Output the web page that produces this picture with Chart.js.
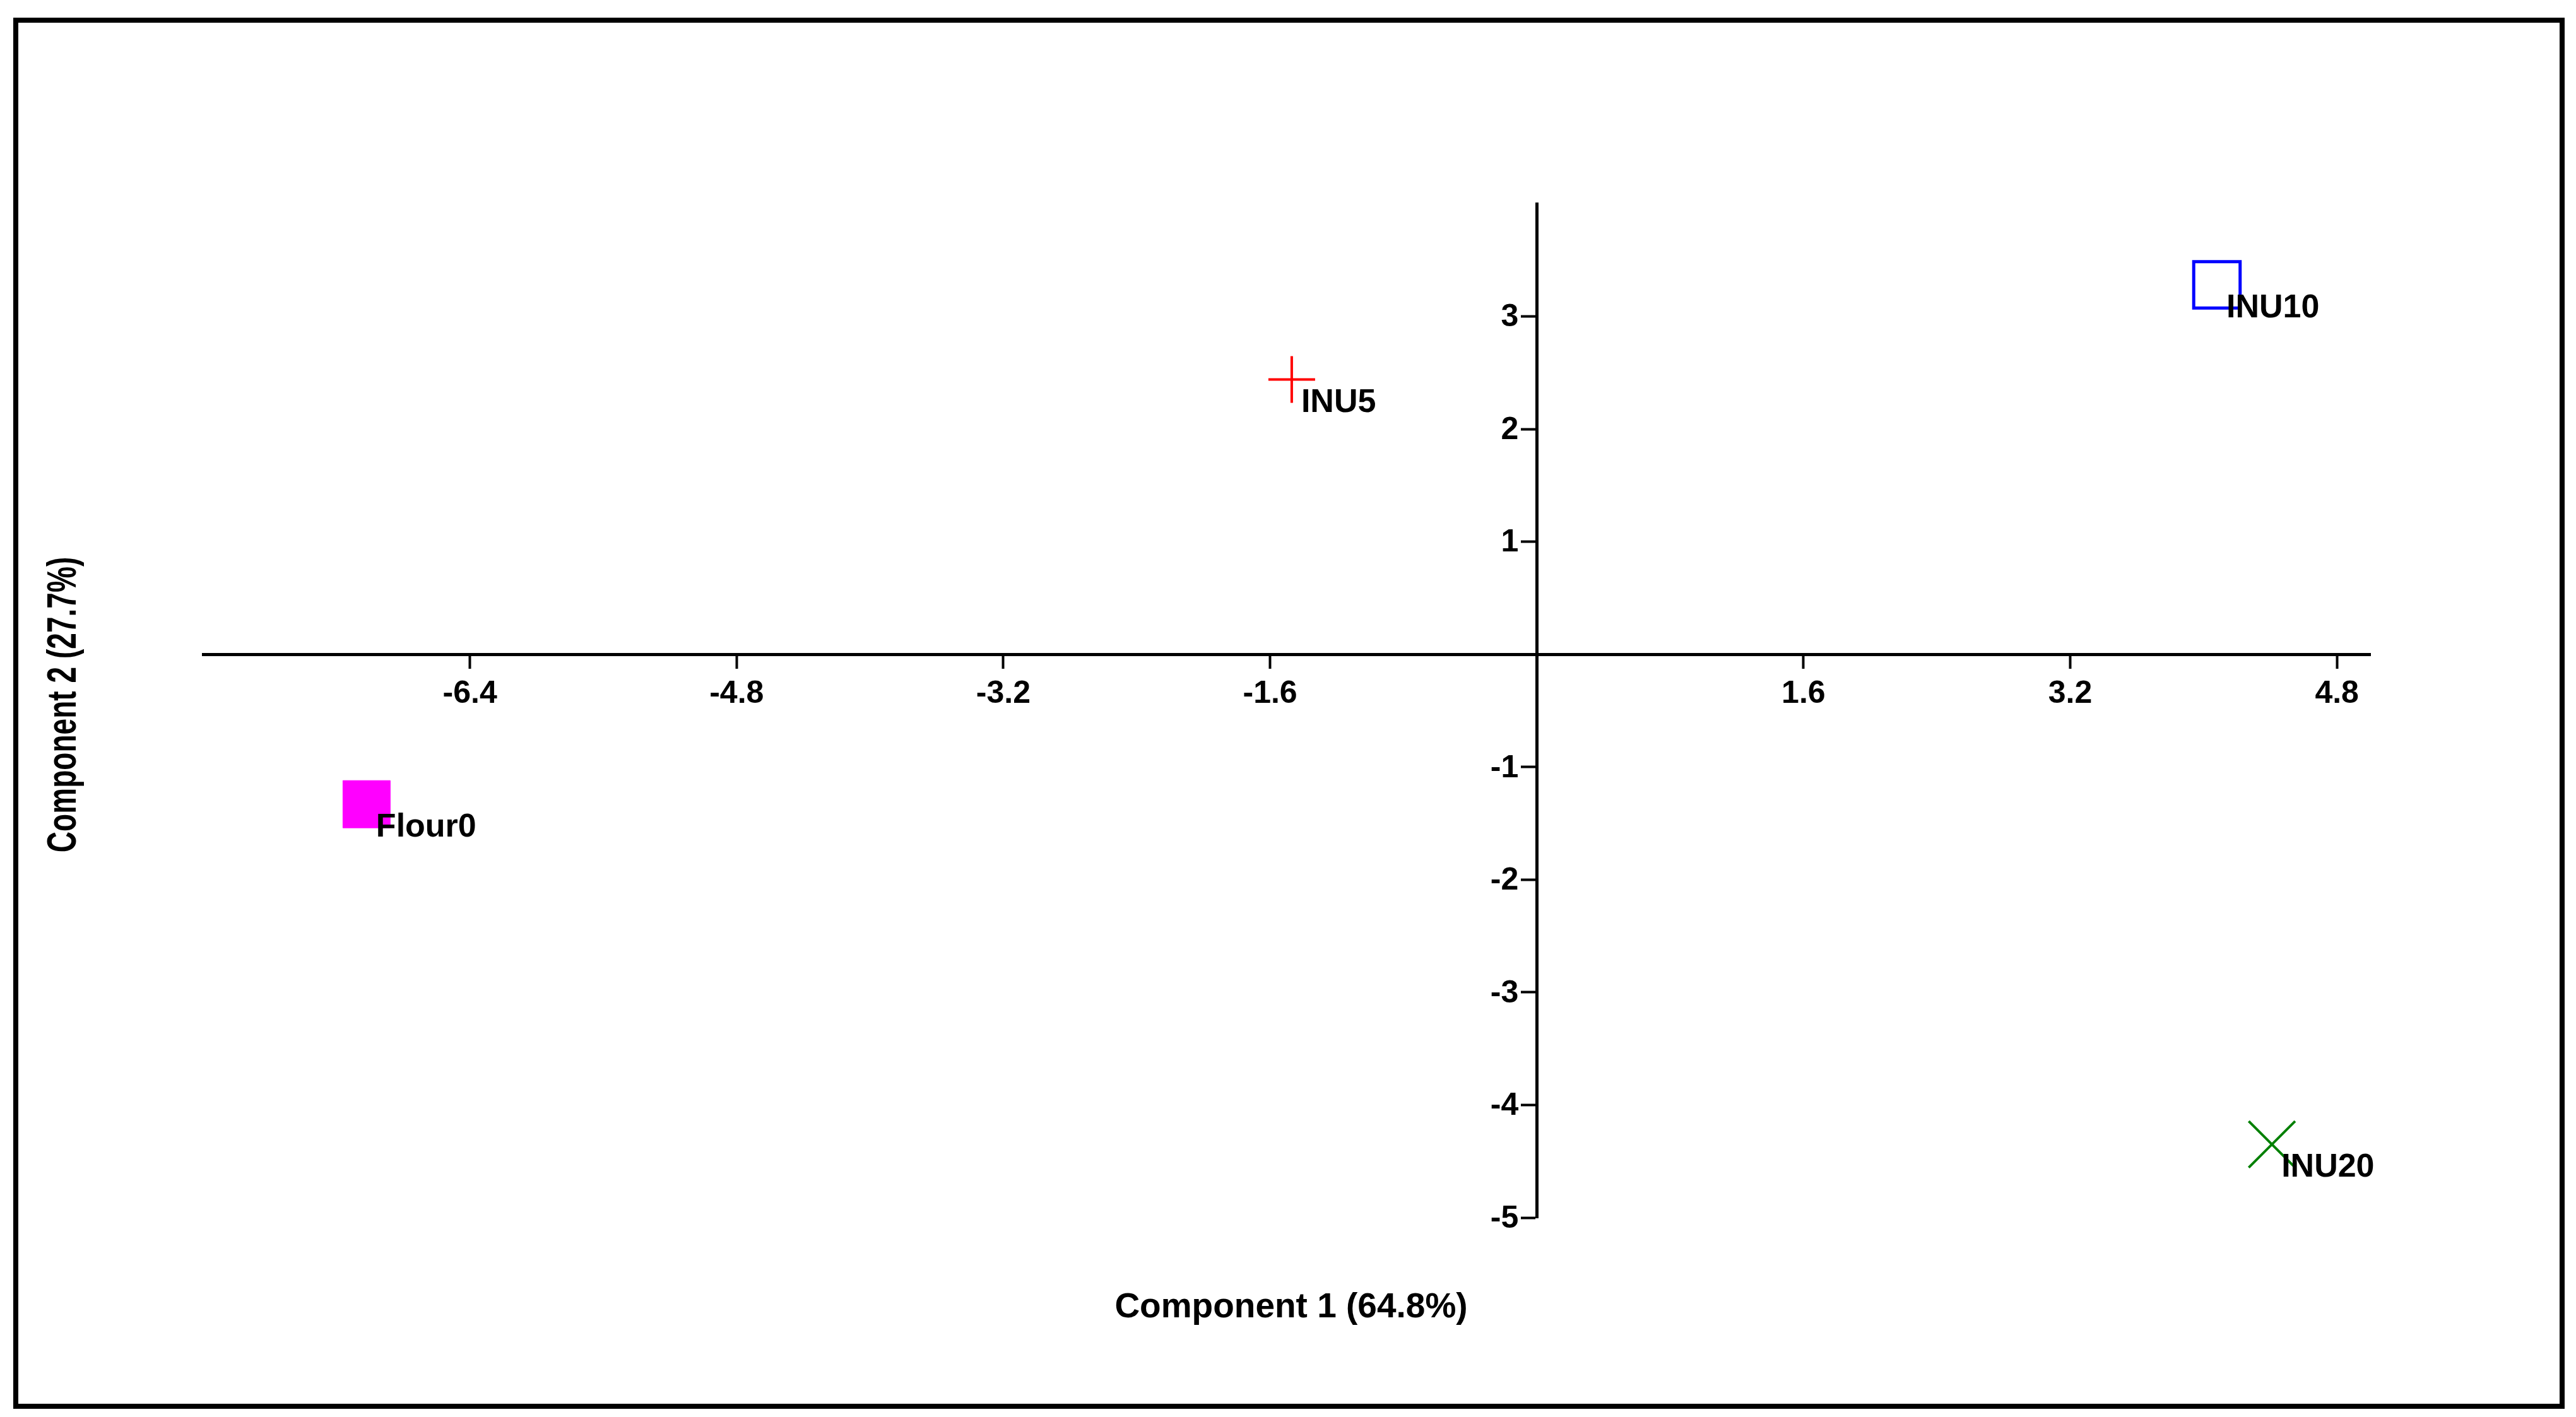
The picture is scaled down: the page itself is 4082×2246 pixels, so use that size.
<!DOCTYPE html>
<html>
<head>
<meta charset="utf-8">
<script src="https://cdn.jsdelivr.net/npm/chart.js@4.4.1/dist/chart.umd.min.js"></script>
<style>
  html, body { margin: 0; padding: 0; background: #fff; }
  canvas { display: block; }
</style>
</head>
<body>
<canvas id="pcaChart" width="4082" height="2246"></canvas>
<script>
// sample scores on the first two components
const sampleNames = ['Flour0', 'INU5', 'INU10', 'INU20'];
const component1 = [-7.02, -1.47, 4.08, 4.41];
const component2 = [-1.33, 2.44, 3.28, -4.35];

// tick labels shown on the crossing axes
const xTickValues = [-6.4, -4.8, -3.2, -1.6, 1.6, 3.2, 4.8];
const yTickValues = [-5, -4, -3, -2, -1, 1, 2, 3];

const xTitle = 'Component 1 (64.8%)';
const yTitle = 'Component 2 (27.7%)';

// marker look for each sample
const markerColors = ['#ff00ff', '#ff0000', '#0000ff', '#008000'];
const markerShapes = ['rect', 'cross', 'rect', 'crossRot'];
const markerFilled = [true, false, false, false];
const markerSizes = [53, 37, 52, 52];

const FONT = '"Liberation Sans", Arial, sans-serif';

const datasets = sampleNames.map((name, i) => ({
  label: name,
  data: [{ x: component1[i], y: component2[i] }],
  pointStyle: markerShapes[i],
  pointRadius: markerSizes[i],
  pointHoverRadius: markerSizes[i],
  borderColor: markerColors[i],
  backgroundColor: markerFilled[i] ? markerColors[i] : 'rgba(0,0,0,0)',
  borderWidth: markerFilled[i] ? 1 : (markerShapes[i] == 'rect' ? 5 : 4),
  clip: false
}));

// name of each sample written just below-right of its marker
const pointLabels = {
  id: 'pointLabels',
  afterDatasetsDraw(chart) {
    const ctx = chart.ctx;
    ctx.save();
    ctx.font = 'bold 52px ' + FONT;
    ctx.fillStyle = '#000';
    ctx.textAlign = 'left';
    ctx.textBaseline = 'alphabetic';
    chart.data.datasets.forEach((ds, i) => {
      const pt = chart.getDatasetMeta(i).data[0];
      ctx.fillText(ds.label, pt.x + 15, pt.y + 51);
    });
    ctx.restore();
  }
};

// y labels sit left of the ticks of the centred y axis
const yTickLabels = {
  id: 'yTickLabels',
  afterDraw(chart) {
    const xs = chart.scales.x, ys = chart.scales.y;
    const ctx = chart.ctx;
    ctx.save();
    ctx.font = 'bold 50px ' + FONT;
    ctx.fillStyle = '#000';
    ctx.textAlign = 'right';
    ctx.textBaseline = 'middle';
    const right = xs.getPixelForValue(0) - 23 - 6;
    yTickValues.forEach(v => {
      ctx.fillText(String(v), right, ys.getPixelForValue(v) + 2);
    });
    ctx.restore();
  }
};

// outer frame and the two axis titles
const frame = {
  id: 'frame',
  afterDraw(chart) {
    const ctx = chart.ctx;
    ctx.save();
    ctx.lineWidth = 8;
    ctx.strokeStyle = '#000';
    ctx.strokeRect(25, 32, 4035, 2197);

    ctx.fillStyle = '#000';
    ctx.textAlign = 'center';
    ctx.textBaseline = 'alphabetic';

    ctx.font = 'bold 55px ' + FONT;
    ctx.fillText(xTitle, 2046, 2088);

    ctx.font = 'bold 64px ' + FONT;
    ctx.save();
    ctx.translate(120, 1117);
    ctx.rotate(-Math.PI / 2);
    ctx.scale(0.72, 1);
    ctx.fillText(yTitle, 0, 0);
    ctx.restore();

    ctx.restore();
  }
};

new Chart(document.getElementById('pcaChart'), {
  type: 'scatter',
  data: { datasets: datasets },
  options: {
    responsive: false,
    devicePixelRatio: 1,
    animation: false,
    layout: {
      padding: { left: 322, right: 326, top: 323, bottom: 316 }
    },
    plugins: {
      legend: { display: false },
      tooltip: { enabled: false }
    },
    scales: {
      x: {
        type: 'linear',
        min: -8,
        max: 5,
        position: { y: 0 },
        afterBuildTicks: (scale) => {
          scale.ticks = xTickValues.map(v => ({ value: v }));
        },
        ticks: {
          autoSkip: false,
          maxRotation: 0,
          padding: 13,
          color: '#000',
          font: { family: FONT, size: 50, weight: 'bold' },
          callback: (v) => Number(v).toFixed(1)
        },
        grid: {
          drawOnChartArea: false,
          drawTicks: true,
          tickLength: 20,
          tickWidth: 4,
          tickColor: '#000'
        },
        border: { display: true, color: '#000', width: 5 }
      },
      y: {
        type: 'linear',
        min: -5,
        max: 4,
        position: { x: 0 },
        afterBuildTicks: (scale) => {
          scale.ticks = yTickValues.map(v => ({ value: v }));
        },
        ticks: { display: false },
        grid: {
          drawOnChartArea: false,
          drawTicks: true,
          tickLength: 23,
          tickWidth: 4,
          tickColor: '#000'
        },
        border: { display: true, color: '#000', width: 5 }
      }
    }
  },
  plugins: [pointLabels, yTickLabels, frame]
});
</script>
</body>
</html>
